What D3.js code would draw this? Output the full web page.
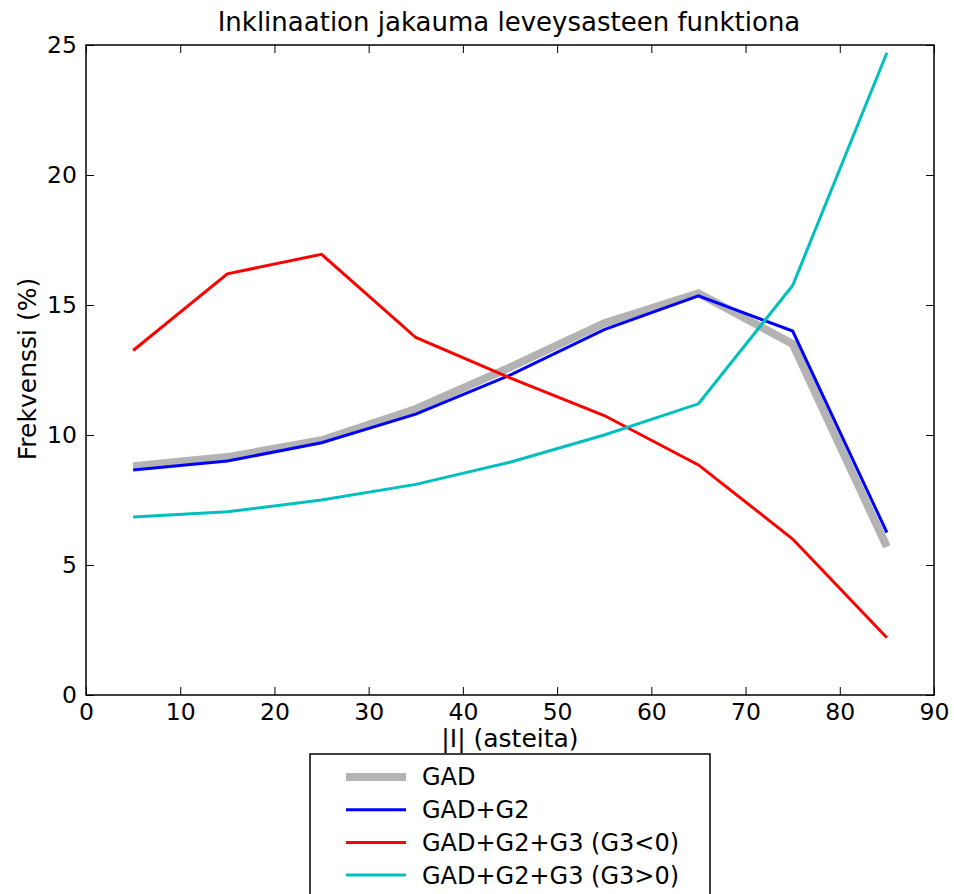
<!DOCTYPE html>
<html>
<head>
<meta charset="utf-8">
<script src="https://cdn.jsdelivr.net/npm/d3@7"></script>
<style>
  body { margin: 0; background: #fff; }
  svg text { font-family: "DejaVu Sans", sans-serif; fill: #000; }
</style>
</head>
<body>
<svg id="chart" width="954" height="894"></svg>
<script>
// latitude bins (degrees)
const latitudes = [5, 15, 25, 35, 45, 55, 65, 75, 85];
// frequency (%) per series
const gad = [8.8, 9.15, 9.8, 11.0, 12.6, 14.3, 15.45, 13.5, 5.7];
const gadG2 = [8.65, 9.0, 9.7, 10.8, 12.3, 14.05, 15.35, 14.0, 6.25];
const gadG2G3neg = [13.25, 16.2, 16.95, 13.75, 12.2, 10.75, 8.85, 6.0, 2.2];
const gadG2G3pos = [6.85, 7.05, 7.5, 8.1, 8.95, 10.0, 11.2, 15.75, 24.7];
const xTicks = [0, 10, 20, 30, 40, 50, 60, 70, 80, 90];
const yTicks = [0, 5, 10, 15, 20, 25];

const series = [
  { name: "GAD", values: gad, color: "#b3b3b3", width: 8 },
  { name: "GAD+G2", values: gadG2, color: "#0000ff", width: 3 },
  { name: "GAD+G2+G3 (G3<0)", values: gadG2G3neg, color: "#ff0000", width: 3 },
  { name: "GAD+G2+G3 (G3>0)", values: gadG2G3pos, color: "#00bfbf", width: 3 }
];

const svg = d3.select("#chart");
const plotLeft = 86, plotRight = 934, plotTop = 45, plotBottom = 695;

const x = d3.scaleLinear().domain([0, 90]).range([plotLeft, plotRight]);
const y = d3.scaleLinear().domain([0, 25]).range([plotBottom, plotTop]);

// data lines
const line = d3.line()
  .x((d, i) => x(latitudes[i]))
  .y(d => y(d));

svg.selectAll(".series")
  .data(series)
  .enter()
  .append("path")
  .attr("class", "series")
  .attr("d", d => line(d.values))
  .attr("fill", "none")
  .attr("stroke", d => d.color)
  .attr("stroke-width", d => d.width)
  .attr("stroke-linejoin", "miter");

// axes, matplotlib style: ticks inward on all four sides
const tickLen = 8;
function styleAxis(g) {
  g.select(".domain").remove();
  g.selectAll(".tick line").attr("stroke", "#000").attr("stroke-width", 1);
  g.selectAll("text").attr("font-family", null).attr("font-size", 23.5);
}

svg.append("g")
  .attr("transform", `translate(0,${plotBottom})`)
  .call(d3.axisBottom(x).tickValues(xTicks).tickSize(-tickLen).tickPadding(8))
  .call(styleAxis);

svg.append("g")
  .attr("transform", `translate(0,${plotTop})`)
  .call(d3.axisTop(x).tickValues(xTicks).tickSize(-tickLen).tickFormat(""))
  .call(styleAxis);

svg.append("g")
  .attr("transform", `translate(${plotLeft},0)`)
  .call(d3.axisLeft(y).tickValues(yTicks).tickSize(-tickLen).tickPadding(9))
  .call(styleAxis);

svg.append("g")
  .attr("transform", `translate(${plotRight},0)`)
  .call(d3.axisRight(y).tickValues(yTicks).tickSize(-tickLen).tickFormat(""))
  .call(styleAxis);

svg.append("rect")
  .attr("x", plotLeft).attr("y", plotTop)
  .attr("width", plotRight - plotLeft).attr("height", plotBottom - plotTop)
  .attr("fill", "none").attr("stroke", "#000").attr("stroke-width", 1.5);

// titles
svg.append("text")
  .attr("x", 509).attr("y", 31)
  .attr("text-anchor", "middle").attr("font-size", 26)
  .text("Inklinaation jakauma leveysasteen funktiona");

svg.append("text")
  .attr("x", (plotLeft + plotRight) / 2).attr("y", 747)
  .attr("text-anchor", "middle").attr("font-size", 25)
  .text("|I| (asteita)");

svg.append("text")
  .attr("transform", "translate(36,369) rotate(-90)")
  .attr("text-anchor", "middle").attr("font-size", 25)
  .text("Frekvenssi (%)");

// legend
const legend = svg.append("g").attr("transform", "translate(310,754)");
legend.append("rect")
  .attr("width", 400).attr("height", 160)
  .attr("fill", "#fff").attr("stroke", "#000").attr("stroke-width", 1.5);

const items = legend.selectAll(".item")
  .data(series)
  .enter()
  .append("g")
  .attr("class", "item")
  .attr("transform", (d, i) => `translate(0,${23 + i * 32.7})`);

items.append("line")
  .attr("x1", 36).attr("x2", 96)
  .attr("stroke", d => d.color)
  .attr("stroke-width", d => d.width);

items.append("text")
  .attr("x", 112).attr("dy", "0.35em")
  .attr("font-size", 24)
  .text(d => d.name);
</script>
</body>
</html>
